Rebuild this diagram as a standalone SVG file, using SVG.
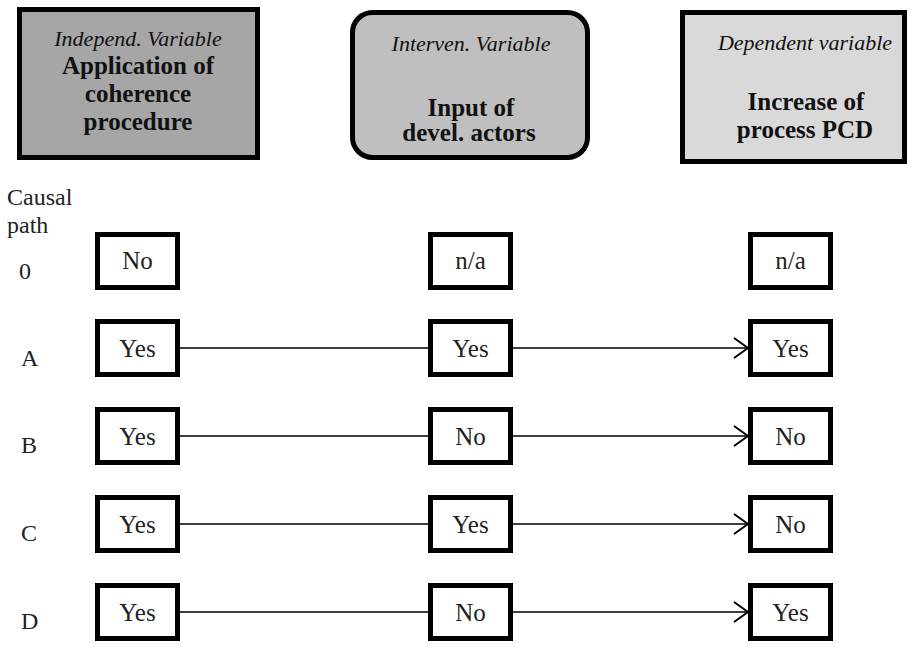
<svg xmlns="http://www.w3.org/2000/svg" width="920" height="648" viewBox="0 0 920 648" font-family="'Liberation Serif', 'DejaVu Serif', serif">
  <defs>
    <marker id="chev" viewBox="0 0 16 22" refX="15" refY="11" markerWidth="16" markerHeight="22" markerUnits="userSpaceOnUse" orient="auto">
      <path d="M1,1 L15,11 L1,21" fill="none" stroke="#000" stroke-width="2"/>
    </marker>
    <style>
      .hdr { stroke: #000; stroke-width: 5; }
      .it { font-style: italic; font-size: 22px; text-anchor: middle; fill: #111; }
      .bd { font-weight: bold; font-size: 25px; text-anchor: middle; fill: #111; }
      .cell rect { fill: #fff; stroke: #000; stroke-width: 5; }
      .cell text { font-size: 25px; text-anchor: middle; fill: #222; }
      .lbl { font-size: 24px; fill: #222; }
      .conn line { stroke: #000; stroke-width: 1.6; }
    </style>
  </defs>

  <rect width="920" height="648" fill="#fff"/>

  <!-- variable headers -->
  <g id="independent">
    <rect class="hdr" x="19.5" y="9.5" width="238" height="148" fill="#a6a6a6"/>
    <text class="it" x="138" y="46">Independ. Variable</text>
    <text class="bd" x="138" y="74">Application of</text>
    <text class="bd" x="138" y="102">coherence</text>
    <text class="bd" x="138" y="130">procedure</text>
  </g>
  <g id="intervening">
    <rect class="hdr" x="352.5" y="12.5" width="235" height="145" rx="20" ry="20" fill="#bfbfbf"/>
    <text class="it" x="471" y="51">Interven. Variable</text>
    <text class="bd" x="471" y="116">Input of</text>
    <text class="bd" x="469" y="141" font-size="24">devel. actors</text>
  </g>
  <g id="dependent">
    <rect class="hdr" x="682.5" y="12.5" width="222" height="149" fill="#d9d9d9"/>
    <text class="it" x="805" y="50">Dependent variable</text>
    <text class="bd" x="806" y="110">Increase of</text>
    <text class="bd" x="805" y="138">process PCD</text>
  </g>

  <!-- row labels -->
  <g id="row-labels">
    <text class="lbl" x="7" y="205">Causal</text>
    <text class="lbl" x="7" y="233">path</text>
    <text class="lbl" x="19" y="279">0</text>
    <text class="lbl" x="21" y="366">A</text>
    <text class="lbl" x="21" y="453">B</text>
    <text class="lbl" x="21" y="541">C</text>
    <text class="lbl" x="21" y="629">D</text>
  </g>

  <!-- connectors -->
  <g id="connectors" class="conn">
    <line x1="180" y1="348" x2="428" y2="348"/>
    <line x1="513" y1="348" x2="748" y2="348" marker-end="url(#chev)"/>
    <line x1="180" y1="436" x2="428" y2="436"/>
    <line x1="513" y1="436" x2="748" y2="436" marker-end="url(#chev)"/>
    <line x1="180" y1="524" x2="428" y2="524"/>
    <line x1="513" y1="524" x2="748" y2="524" marker-end="url(#chev)"/>
    <line x1="180" y1="612" x2="428" y2="612"/>
    <line x1="513" y1="612" x2="748" y2="612" marker-end="url(#chev)"/>
  </g>

  <!-- path 0 -->
  <g id="p0-iv" class="cell"><rect x="97.5" y="234.5" width="80" height="53"/><text x="137.5" y="269">No</text></g>
  <g id="p0-mv" class="cell"><rect x="430.5" y="234.5" width="80" height="53"/><text x="470.5" y="269">n/a</text></g>
  <g id="p0-dv" class="cell"><rect x="750.5" y="234.5" width="80" height="53"/><text x="790.5" y="269">n/a</text></g>

  <!-- path A -->
  <g id="pA-iv" class="cell"><rect x="97.5" y="321.5" width="80" height="53"/><text x="137.5" y="357">Yes</text></g>
  <g id="pA-mv" class="cell"><rect x="430.5" y="321.5" width="80" height="53"/><text x="470.5" y="357">Yes</text></g>
  <g id="pA-dv" class="cell"><rect x="750.5" y="321.5" width="80" height="53"/><text x="790.5" y="357">Yes</text></g>

  <!-- path B -->
  <g id="pB-iv" class="cell"><rect x="97.5" y="409.5" width="80" height="53"/><text x="137.5" y="445">Yes</text></g>
  <g id="pB-mv" class="cell"><rect x="430.5" y="409.5" width="80" height="53"/><text x="470.5" y="445">No</text></g>
  <g id="pB-dv" class="cell"><rect x="750.5" y="409.5" width="80" height="53"/><text x="790.5" y="445">No</text></g>

  <!-- path C -->
  <g id="pC-iv" class="cell"><rect x="97.5" y="497.5" width="80" height="53"/><text x="137.5" y="533">Yes</text></g>
  <g id="pC-mv" class="cell"><rect x="430.5" y="497.5" width="80" height="53"/><text x="470.5" y="533">Yes</text></g>
  <g id="pC-dv" class="cell"><rect x="750.5" y="497.5" width="80" height="53"/><text x="790.5" y="533">No</text></g>

  <!-- path D -->
  <g id="pD-iv" class="cell"><rect x="97.5" y="585.5" width="80" height="53"/><text x="137.5" y="621">Yes</text></g>
  <g id="pD-mv" class="cell"><rect x="430.5" y="585.5" width="80" height="53"/><text x="470.5" y="621">No</text></g>
  <g id="pD-dv" class="cell"><rect x="750.5" y="585.5" width="80" height="53"/><text x="790.5" y="621">Yes</text></g>
</svg>
